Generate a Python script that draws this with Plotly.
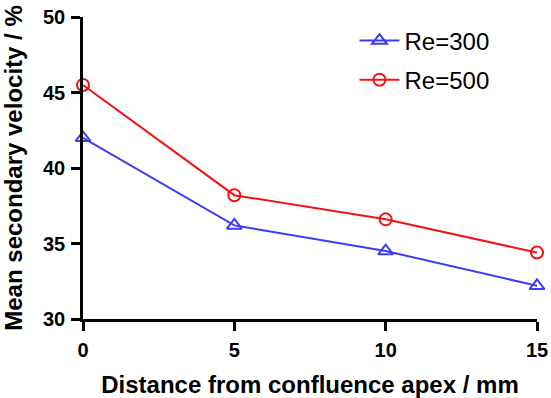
import plotly.graph_objects as go

distance = [0, 5, 10, 15]
re300 = [42.0, 36.2, 34.5, 32.2]
re500 = [45.5, 38.2, 36.6, 34.4]
x_ticks = [0, 5, 10, 15]
y_ticks = [30, 35, 40, 45, 50]

fig = go.Figure()
fig.add_trace(go.Scatter(x=distance, y=re300, mode="lines+markers", name="Re=300",
                         legendgroup="a",
                         line=dict(color="#3c3cf0", width=2),
                         marker=dict(symbol="triangle-up-open", size=13, color="#3c3cf0", line=dict(width=2)),
                         cliponaxis=False))
fig.add_trace(go.Scatter(x=distance, y=re500, mode="lines+markers", name="Re=500",
                         legendgroup="b",
                         line=dict(color="#f01414", width=2),
                         marker=dict(symbol="circle-open", size=12, color="#f01414", line=dict(width=2)),
                         cliponaxis=False))

axis_common = dict(showline=True, linecolor="black", linewidth=2.5, ticks="outside",
                   ticklen=9, tickwidth=2.5, tickcolor="black", showgrid=False, zeroline=False,
                   automargin=False, ticklabelstandoff=2,
                   tickfont=dict(family="Liberation Sans", size=20, color="black"))

fig.update_layout(
    width=551, height=398,
    margin=dict(l=83, r=14, t=17, b=79),
    plot_bgcolor="white", paper_bgcolor="white",
    xaxis=dict(range=[0, 15], tickvals=x_ticks, ticktext=[f"<b>{v}</b>" for v in x_ticks],
               title=dict(text="<b>Distance from confluence apex / mm</b>", standoff=28,
                          font=dict(family="Liberation Sans", size=24, color="black")),
               **axis_common),
    yaxis=dict(range=[30, 50], tickvals=y_ticks, ticktext=[f"<b>{v}</b>" for v in y_ticks],
               title=dict(text="<b>Mean secondary velocity / %</b>", standoff=16,
                          font=dict(family="Liberation Sans", size=24, color="black")),
               **axis_common),
    legend=dict(x=0.598, y=0.995, xanchor="left", yanchor="top", bgcolor="rgba(0,0,0,0)",
                font=dict(family="Liberation Sans", size=24, color="black"),
                itemwidth=40, traceorder="grouped", tracegroupgap=5),
    showlegend=True,
)

fig.write_html("out.html", config={"displayModeBar": False},
               post_script="document.body.style.margin='0';document.body.style.overflow='hidden';")
